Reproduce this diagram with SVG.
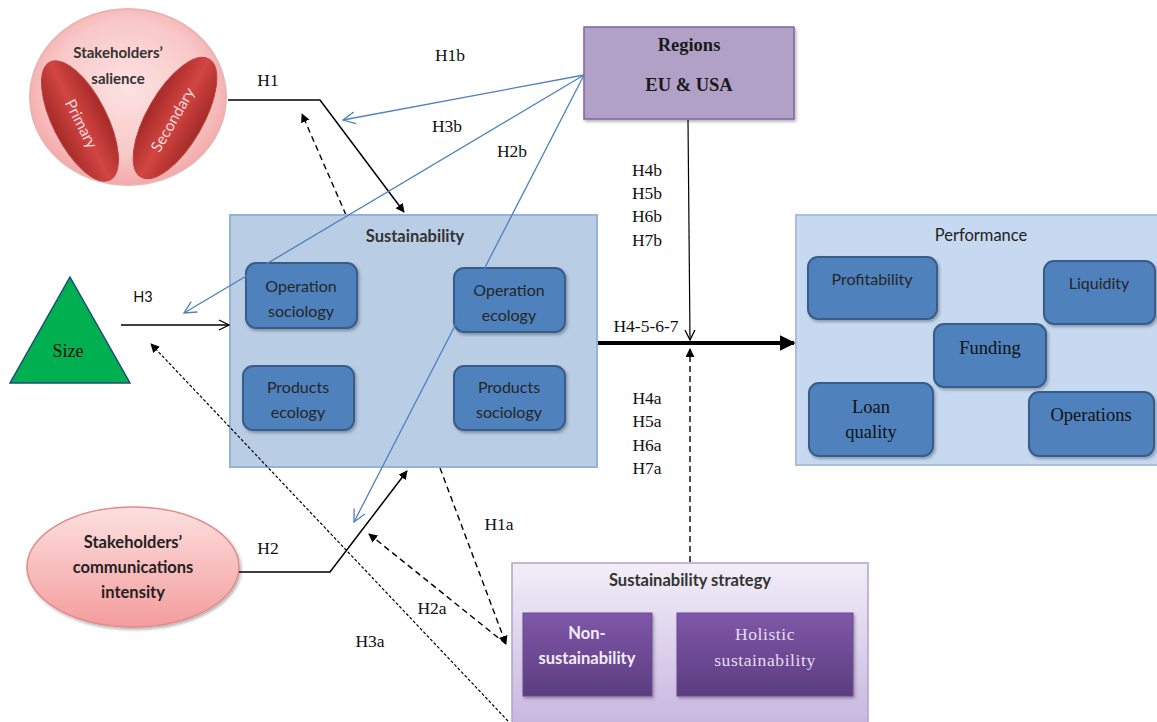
<svg xmlns="http://www.w3.org/2000/svg" width="1157" height="722" viewBox="0 0 1157 722">
  <style>
    .sans { font-family: Lato, "Open Sans", "Liberation Sans", sans-serif; }
    .serif { font-family: "Liberation Serif", "DejaVu Serif", serif; }
    .lbl { font-family: "Liberation Serif", serif; font-size: 17.5px; fill: #111; }
    .inner { fill: #4f81bd; stroke: #385d8a; stroke-width: 2; }
    .innerTxt { font-family: Lato, "Open Sans", sans-serif; font-size: 16px; fill: #262626; text-anchor: middle; }
    .perfTxt { font-family: "Liberation Serif", serif; font-size: 18.5px; fill: #111; text-anchor: middle; }
    .blue { stroke: #4f81bd; stroke-width: 1.3; fill: none; }
    .blk { stroke: #000; stroke-width: 1.5; fill: none; }
    .dash { stroke: #000; stroke-width: 1.4; fill: none; stroke-dasharray: 6 4; }
    .dot { stroke: #000; stroke-width: 1.2; fill: none; stroke-dasharray: 3 2; }
  </style>
  <defs>
    <radialGradient id="salienceFill" cx="50%" cy="45%" r="55%">
      <stop offset="0" stop-color="#fde2e2"/>
      <stop offset="0.7" stop-color="#f9c8c8"/>
      <stop offset="1" stop-color="#f3a8a8"/>
    </radialGradient>
    <linearGradient id="redLeaf" x1="0" y1="0" x2="1" y2="0">
      <stop offset="0" stop-color="#a52a27"/>
      <stop offset="0.5" stop-color="#d24542"/>
      <stop offset="1" stop-color="#a52a27"/>
    </linearGradient>
    <linearGradient id="commFill" x1="0" y1="0" x2="0" y2="1">
      <stop offset="0" stop-color="#fde0e0"/>
      <stop offset="1" stop-color="#f49c9c"/>
    </linearGradient>
    <linearGradient id="strategyFill" x1="0" y1="0" x2="0" y2="1">
      <stop offset="0" stop-color="#f2eef8"/>
      <stop offset="1" stop-color="#c6b3df"/>
    </linearGradient>
    <linearGradient id="purpleBox" x1="0" y1="0" x2="0" y2="1">
      <stop offset="0" stop-color="#7f57a8"/>
      <stop offset="1" stop-color="#5c3d80"/>
    </linearGradient>
    <filter id="shadow" x="-10%" y="-10%" width="130%" height="130%">
      <feDropShadow dx="1.5" dy="2" stdDeviation="1.5" flood-color="#000" flood-opacity="0.3"/>
    </filter>
    <marker id="arrFill" viewBox="0 0 10 10" refX="9" refY="5" markerWidth="9" markerHeight="9" markerUnits="userSpaceOnUse" orient="auto">
      <path d="M0,0 L10,5 L0,10 z" fill="#000"/>
    </marker>
    <marker id="arrBig" viewBox="0 0 10 10" refX="9" refY="5" markerWidth="4" markerHeight="4" orient="auto">
      <path d="M0,0 L10,5 L0,10 z" fill="#000"/>
    </marker>
    <marker id="arrOpen" viewBox="0 0 12 12" refX="11" refY="6" markerWidth="12" markerHeight="12" markerUnits="userSpaceOnUse" orient="auto">
      <path d="M1,1 L11,6 L1,11" fill="none" stroke="#000" stroke-width="1.3"/>
    </marker>
    <marker id="arrBlue" viewBox="0 0 14 14" refX="13" refY="7" markerWidth="14" markerHeight="14" markerUnits="userSpaceOnUse" orient="auto">
      <path d="M1,1 L13,7 L1,13" fill="none" stroke="#4f81bd" stroke-width="1.3"/>
    </marker>
  </defs>

  <rect width="1157" height="722" fill="#fff"/>

  <!-- dashed H1a link runs behind the Sustainability box -->
  <g id="connectors-back">
    <path class="dash" d="M346,215 L302,114" marker-end="url(#arrFill)"/>
    <path class="dash" d="M440,468 L506,644" marker-end="url(#arrFill)"/>
  </g>

  <!-- Stakeholders' salience -->
  <g id="salience">
    <ellipse cx="128" cy="97" rx="98" ry="88" fill="url(#salienceFill)" stroke="#e9b4b3" stroke-width="2"/>
    <ellipse cx="80" cy="121" rx="27" ry="66" transform="rotate(-27 80 121)" fill="url(#redLeaf)" stroke="#b8403d" stroke-width="1"/>
    <ellipse cx="175" cy="118" rx="28" ry="68" transform="rotate(30 175 118)" fill="url(#redLeaf)" stroke="#b8403d" stroke-width="1"/>
    <text class="sans" x="118" y="58" font-size="15" font-weight="bold" fill="#333" text-anchor="middle">Stakeholders’</text>
    <text class="sans" x="118" y="84" font-size="15" font-weight="bold" fill="#333" text-anchor="middle">salience</text>
    <text class="sans" transform="translate(81 124) rotate(63)" font-size="15.5" fill="#f4dcdc" text-anchor="middle" dy="5">Primary</text>
    <text class="sans" transform="translate(173 120) rotate(-60)" font-size="15.5" fill="#f4dcdc" text-anchor="middle" dy="5">Secondary</text>
  </g>

  <!-- Size -->
  <g id="size">
    <polygon points="70,277 130,383 10,383" fill="#00b050" stroke="#1f497d" stroke-width="1.5"/>
    <text class="serif" x="68" y="357" font-size="18" fill="#111" text-anchor="middle">Size</text>
  </g>

  <!-- Stakeholders' communications intensity -->
  <g id="communications">
    <ellipse cx="133" cy="567" rx="106" ry="60" fill="url(#commFill)" stroke="#e08a8a" stroke-width="1.5" filter="url(#shadow)"/>
    <text class="sans" x="133" y="548" font-size="16.5" font-weight="bold" fill="#222" text-anchor="middle">Stakeholders’</text>
    <text class="sans" x="133" y="573" font-size="16.5" font-weight="bold" fill="#222" text-anchor="middle">communications</text>
    <text class="sans" x="133" y="598" font-size="16.5" font-weight="bold" fill="#222" text-anchor="middle">intensity</text>
  </g>

  <!-- Sustainability -->
  <g id="sustainability">
    <rect x="230" y="215" width="367" height="252" fill="#b9cde5" stroke="#95b3d7" stroke-width="2"/>
    <text class="sans" x="415" y="242" font-size="16.5" font-weight="bold" fill="#333" text-anchor="middle">Sustainability</text>
    <rect class="inner" x="246" y="263" width="111" height="65" rx="10" filter="url(#shadow)"/>
    <text class="innerTxt" x="301" y="292">Operation</text>
    <text class="innerTxt" x="301" y="317">sociology</text>
    <rect class="inner" x="454" y="268" width="111" height="64" rx="10" filter="url(#shadow)"/>
    <text class="innerTxt" x="509" y="296">Operation</text>
    <text class="innerTxt" x="509" y="321">ecology</text>
    <rect class="inner" x="243" y="366" width="111" height="64" rx="10" filter="url(#shadow)"/>
    <text class="innerTxt" x="298" y="393">Products</text>
    <text class="innerTxt" x="298" y="418">ecology</text>
    <rect class="inner" x="454" y="366" width="111" height="64" rx="10" filter="url(#shadow)"/>
    <text class="innerTxt" x="509" y="393">Products</text>
    <text class="innerTxt" x="509" y="418">sociology</text>
  </g>

  <!-- Regions -->
  <g id="regions">
    <rect x="584" y="27" width="210" height="92" fill="#b2a1c7" stroke="#8064a2" stroke-width="1.5" filter="url(#shadow)"/>
    <text class="serif" x="689" y="51" font-size="18.5" font-weight="bold" fill="#1a1a1a" text-anchor="middle">Regions</text>
    <text class="serif" x="689" y="91" font-size="18.5" font-weight="bold" fill="#1a1a1a" text-anchor="middle">EU &amp; USA</text>
  </g>

  <!-- Performance -->
  <g id="performance">
    <rect x="796" y="215" width="365" height="250" fill="#c6d9f1" stroke="#a7c0de" stroke-width="2"/>
    <text class="sans" x="981" y="241" font-size="16.5" fill="#222" text-anchor="middle">Performance</text>
    <rect class="inner" x="808" y="257" width="129" height="62" rx="10" filter="url(#shadow)"/>
    <text class="innerTxt" x="872" y="285">Profitability</text>
    <rect class="inner" x="1044" y="261" width="111" height="63" rx="10" filter="url(#shadow)"/>
    <text class="innerTxt" x="1099" y="289">Liquidity</text>
    <rect class="inner" x="934" y="324" width="112" height="63" rx="10" filter="url(#shadow)"/>
    <text class="perfTxt" x="990" y="354">Funding</text>
    <rect class="inner" x="809" y="383" width="124" height="73" rx="10" filter="url(#shadow)"/>
    <text class="perfTxt" x="871" y="413">Loan</text>
    <text class="perfTxt" x="871" y="438">quality</text>
    <rect class="inner" x="1029" y="392" width="125" height="64" rx="10" filter="url(#shadow)"/>
    <text class="perfTxt" x="1091" y="421">Operations</text>
  </g>

  <!-- Sustainability strategy -->
  <g id="strategy">
    <rect x="512" y="563" width="356" height="170" fill="url(#strategyFill)" stroke="#b3a2c7" stroke-width="1.5"/>
    <text class="sans" x="690" y="586" font-size="16.5" font-weight="bold" fill="#333" text-anchor="middle">Sustainability strategy</text>
    <rect x="523" y="613" width="129" height="83" fill="url(#purpleBox)" stroke="#6a4a90" stroke-width="1" filter="url(#shadow)"/>
    <text class="sans" x="587" y="639" font-size="16.5" font-weight="bold" fill="#f2eef8" text-anchor="middle">Non-</text>
    <text class="sans" x="587" y="664" font-size="16.5" font-weight="bold" fill="#f2eef8" text-anchor="middle">sustainability</text>
    <rect x="677" y="613" width="176" height="83" fill="url(#purpleBox)" stroke="#6a4a90" stroke-width="1" filter="url(#shadow)"/>
    <text class="serif" x="765" y="640" font-size="17.5" letter-spacing="0.6" fill="#e6def0" text-anchor="middle">Holistic</text>
    <text class="serif" x="765" y="666" font-size="17.5" letter-spacing="0.6" fill="#e6def0" text-anchor="middle">sustainability</text>
  </g>

  <!-- connectors drawn over the boxes -->
  <g id="connectors">
    <!-- H1 -->
    <path class="blk" d="M228,100 L320,100 L404,212" marker-end="url(#arrFill)"/>
    <!-- H2 -->
    <path class="blk" d="M239,572 L330,572 L407,471" marker-end="url(#arrFill)"/>
    <!-- H3 -->
    <path class="blk" d="M121,325 L229,325" stroke-width="1.3" marker-end="url(#arrOpen)"/>
    <!-- H4-5-6-7 -->
    <path d="M598,343 L794,343" stroke="#000" stroke-width="4" fill="none" marker-end="url(#arrBig)"/>
    <!-- Regions moderation -->
    <path d="M688,120 L690,340" stroke="#000" stroke-width="1.2" fill="none" marker-end="url(#arrOpen)"/>
    <!-- Strategy moderation -->
    <path class="dash" d="M690,562 L690,349" marker-end="url(#arrFill)"/>
    <!-- H2a -->
    <path class="dash" d="M506,644 L369,534" marker-end="url(#arrFill)"/>
    <!-- H3a -->
    <path class="dot" d="M508,721 L151,344" marker-end="url(#arrFill)"/>
    <!-- H1b, H3b, H2b -->
    <path class="blue" d="M584,75 L343,120" marker-end="url(#arrBlue)"/>
    <path class="blue" d="M584,75 L184,313" marker-end="url(#arrBlue)"/>
    <path class="blue" d="M584,75 L354,522" marker-end="url(#arrBlue)"/>
  </g>

  <!-- hypothesis labels -->
  <g id="labels">
    <text class="lbl" x="268" y="86" text-anchor="middle">H1</text>
    <text class="lbl" x="268" y="554" text-anchor="middle">H2</text>
    <text class="sans" x="143" y="302" font-size="14.5" fill="#111" text-anchor="middle">H3</text>
    <text class="lbl" x="450" y="61" text-anchor="middle">H1b</text>
    <text class="lbl" x="447" y="132" text-anchor="middle">H3b</text>
    <text class="lbl" x="512" y="157" text-anchor="middle">H2b</text>
    <text class="lbl" x="647" y="176" text-anchor="middle">H4b</text>
    <text class="lbl" x="647" y="199" text-anchor="middle">H5b</text>
    <text class="lbl" x="647" y="222" text-anchor="middle">H6b</text>
    <text class="lbl" x="647" y="246" text-anchor="middle">H7b</text>
    <text class="lbl" x="646" y="332" text-anchor="middle">H4-5-6-7</text>
    <text class="lbl" x="647" y="404" text-anchor="middle">H4a</text>
    <text class="lbl" x="647" y="427" text-anchor="middle">H5a</text>
    <text class="lbl" x="647" y="451" text-anchor="middle">H6a</text>
    <text class="lbl" x="647" y="474" text-anchor="middle">H7a</text>
    <text class="lbl" x="499" y="530" text-anchor="middle">H1a</text>
    <text class="lbl" x="432" y="614" text-anchor="middle">H2a</text>
    <text class="lbl" x="370" y="647" text-anchor="middle">H3a</text>
  </g>
</svg>
